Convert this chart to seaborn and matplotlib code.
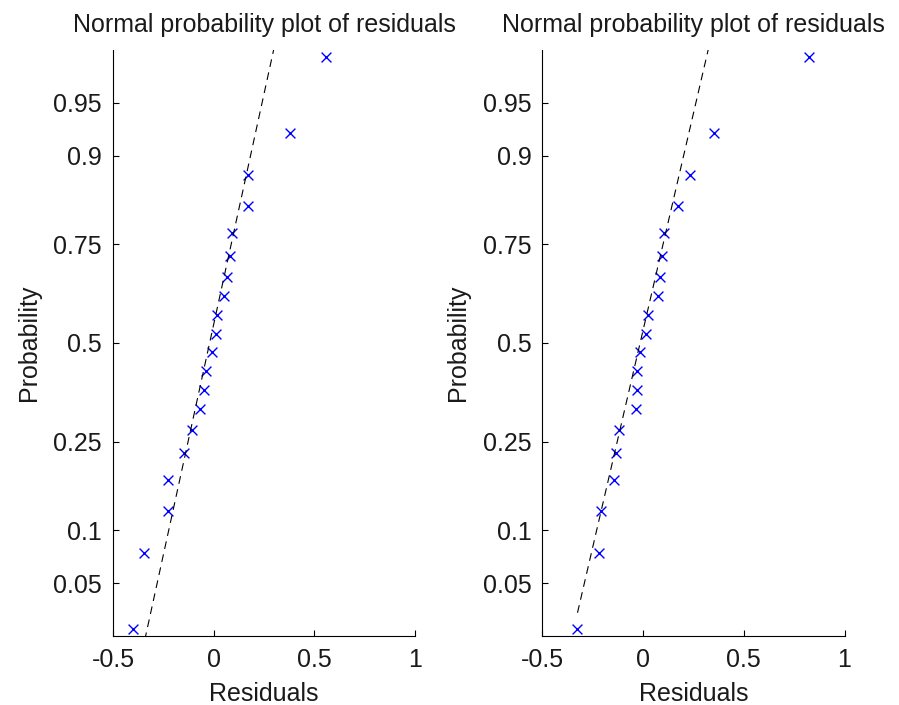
import math
import numpy as np
import pandas as pd
import matplotlib
matplotlib.use('Agg')
import matplotlib.pyplot as plt
import seaborn as sns

# residuals, one list per panel (sorted)
resid_left = [-0.399, -0.348, -0.229, -0.229, -0.147, -0.108, -0.070, -0.046, -0.036, -0.007,
              0.010, 0.018, 0.050, 0.068, 0.081, 0.093, 0.169, 0.169, 0.379, 0.560]
resid_right = [-0.326, -0.217, -0.207, -0.144, -0.136, -0.122, -0.036, -0.030, -0.029, -0.018,
               0.013, 0.023, 0.073, 0.084, 0.094, 0.104, 0.174, 0.233, 0.353, 0.822]
# plotting positions (i-0.5)/n for n=20
prob = [0.025, 0.075, 0.125, 0.175, 0.225, 0.275, 0.325, 0.375, 0.425, 0.475,
        0.525, 0.575, 0.625, 0.675, 0.725, 0.775, 0.825, 0.875, 0.925, 0.975]

ytick_vals = [0.05, 0.1, 0.25, 0.5, 0.75, 0.9, 0.95]
ytick_labels = ['0.05', '0.1', '0.25', '0.5', '0.75', '0.9', '0.95']
xtick_vals = [-0.5, 0, 0.5, 1]
xtick_labels = ['-0.5', '0', '0.5', '1']

title_txt = 'Normal probability plot of residuals'


# normal cdf / inverse cdf for the probability axis
_erfc = np.frompyfunc(math.erfc, 1, 1)


def norm_cdf(z):
    z = np.asarray(z, dtype=float)
    return 0.5 * _erfc(-z / math.sqrt(2)).astype(float)


def norm_ppf(p):
    p = np.clip(np.asarray(p, dtype=float), 1e-15, 1 - 1e-15)
    lo = np.full(p.shape, -9.0)
    hi = np.full(p.shape, 9.0)
    for _ in range(60):
        mid = (lo + hi) / 2
        below = norm_cdf(mid) < p
        lo = np.where(below, mid, lo)
        hi = np.where(below, hi, mid)
    return (lo + hi) / 2


def ref_line(x, p):
    # line through the quartiles, as in normplot
    x = np.sort(np.asarray(x))
    z = norm_ppf(p)
    q1x, q3x = np.percentile(x, [25, 75], method='hazen')
    q1y, q3y = np.percentile(z, [25, 75], method='hazen')
    slope = (q3y - q1y) / (q3x - q1x)
    cx, cy = (q1x + q3x) / 2, (q1y + q3y) / 2
    mx = np.array([x.min(), x.max()])
    my = cy + slope * (mx - cx)
    return mx, norm_cdf(my)


sns.set_style('white', {'xtick.direction': 'in', 'ytick.direction': 'in',
                        'axes.edgecolor': 'black'})
plt.rcParams['font.family'] = ['Liberation Sans', 'DejaVu Sans']
plt.rcParams['font.size'] = 18

fig = plt.figure(figsize=(8.99, 7.05), dpi=100)
ax1 = fig.add_axes([0.1257, 0.0979, 0.3360, 0.8312])
ax2 = fig.add_axes([0.6034, 0.0979, 0.3360, 0.8312])

for ax, resid in [(ax1, resid_left), (ax2, resid_right)]:
    ax.set_yscale('function', functions=(norm_ppf, norm_cdf))
    df = pd.DataFrame({'Residuals': resid, 'Probability': prob})
    sns.scatterplot(data=df, x='Residuals', y='Probability', ax=ax, marker='x',
                    color='blue', s=50, linewidth=1.0, zorder=2)
    lx, ly = ref_line(resid, prob)
    ax.plot(lx, ly, color='black', lw=0.8, ls=(0, (7, 5)), zorder=3)

    ax.set_xlim(-0.5, 1)
    ax.set_ylim(0.0225, 0.9775)
    ax.set_xticks(xtick_vals)
    ax.set_xticklabels(xtick_labels)
    ax.set_yticks(ytick_vals)
    ax.set_yticklabels(ytick_labels)
    ax.minorticks_off()
    ax.tick_params(axis='both', which='major', direction='in', length=4,
                   width=0.8, color='black', labelsize=18, labelcolor='#1a1a1a')
    ax.tick_params(axis='x', pad=8.5, bottom=True)
    ax.tick_params(axis='y', pad=8, left=True)
    for side in ['top', 'right']:
        ax.spines[side].set_visible(False)
    for side in ['left', 'bottom']:
        ax.spines[side].set_linewidth(0.8)
        ax.spines[side].set_color('black')
    ax.set_title(title_txt, fontsize=18, pad=13, color='#1a1a1a')
    ax.set_xlabel('Residuals', fontsize=18, labelpad=7, color='#1a1a1a')
    ax.set_ylabel('Probability', fontsize=18, labelpad=9, color='#1a1a1a')
    ax.grid(False)

fig.savefig('out.png', dpi=100)
